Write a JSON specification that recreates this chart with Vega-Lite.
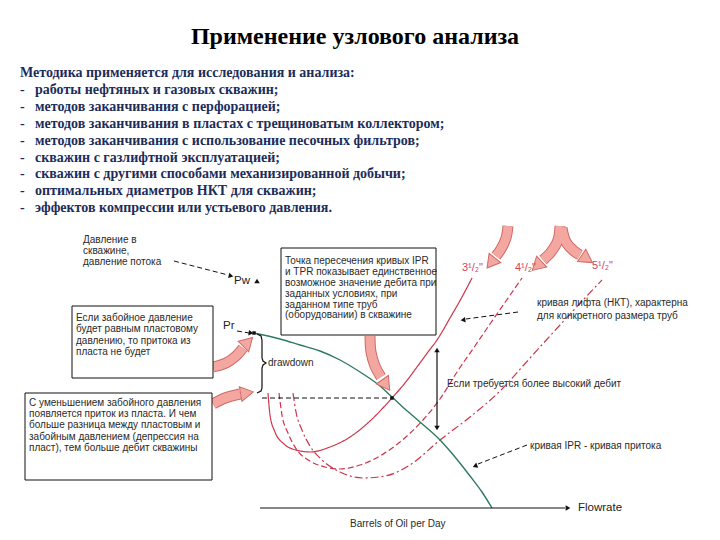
{
  "$schema": "https://vega.github.io/schema/vega-lite/v6.json",
  "width": 720,
  "height": 540,
  "padding": 0,
  "autosize": {"type": "fit", "contains": "padding"},
  "background": "white",
  "config": {"view": {"stroke": null}},
  "datasets": {
    "title": [{"x": 355, "y": 37, "t": "Применение узлового анализа"}],
    "bullets": [
      {"x": 20, "y": 73, "t": "Методика применяется для исследования и анализа:"},
      {"x": 20, "y": 90, "t": "-"}, {"x": 35, "y": 90, "t": "работы нефтяных и газовых скважин;"},
      {"x": 20, "y": 107, "t": "-"}, {"x": 35, "y": 107, "t": "методов заканчивания с перфорацией;"},
      {"x": 20, "y": 124, "t": "-"}, {"x": 35, "y": 124, "t": "методов заканчивания в пластах с трещиноватым коллектором;"},
      {"x": 20, "y": 141, "t": "-"}, {"x": 35, "y": 141, "t": "методов заканчивания с использование песочных фильтров;"},
      {"x": 20, "y": 158, "t": "-"}, {"x": 35, "y": 158, "t": "скважин с газлифтной эксплуатацией;"},
      {"x": 20, "y": 174, "t": "-"}, {"x": 35, "y": 174, "t": "скважин с другими способами механизированной добычи;"},
      {"x": 20, "y": 191, "t": "-"}, {"x": 35, "y": 191, "t": "оптимальных диаметров НКТ для скважин;"},
      {"x": 20, "y": 208, "t": "-"}, {"x": 35, "y": 208, "t": "эффектов компрессии или устьевого давления."}
    ],
    "labels": [
      {"x": 83, "y": 240, "t": "Давление в"},
      {"x": 83, "y": 251, "t": "скважине,"},
      {"x": 83, "y": 262, "t": "давление потока"},
      {"x": 76, "y": 318, "t": "Если забойное давление"},
      {"x": 76, "y": 329, "t": "будет равным пластовому"},
      {"x": 76, "y": 341, "t": "давлению, то притока из"},
      {"x": 76, "y": 352, "t": "пласта не будет"},
      {"x": 285, "y": 261, "t": "Точка пересечения кривых IPR"},
      {"x": 285, "y": 272, "t": "и TPR показывает единственное"},
      {"x": 285, "y": 283, "t": "возможное значение дебита при"},
      {"x": 285, "y": 294, "t": "заданных условиях, при"},
      {"x": 285, "y": 305, "t": "заданном типе труб"},
      {"x": 285, "y": 315, "t": "(оборудовании) в скважине"},
      {"x": 29, "y": 403, "t": "С уменьшением забойного давления"},
      {"x": 29, "y": 414, "t": "появляется приток из пласта. И чем"},
      {"x": 29, "y": 425, "t": "больше разница между пластовым и"},
      {"x": 29, "y": 437, "t": "забойным давлением (депрессия на"},
      {"x": 29, "y": 448, "t": "пласт), тем больше дебит скважины"},
      {"x": 268, "y": 363, "t": "drawdown"},
      {"x": 447, "y": 384, "t": "Если требуется более высокий дебит"},
      {"x": 537, "y": 303, "t": "кривая лифта (НКТ), характерна"},
      {"x": 537, "y": 316, "t": "для конкретного размера труб"},
      {"x": 530, "y": 446, "t": "кривая IPR - кривая притока"},
      {"x": 350, "y": 524, "t": "Barrels of Oil per Day"}
    ],
    "axisLabels": [
      {"x": 234, "y": 281, "t": "Pw"},
      {"x": 223, "y": 326, "t": "Pr"},
      {"x": 578, "y": 508, "t": "Flowrate"}
    ],
    "tubes": [
      {"x": 462, "y": 268, "t": "3¹/₂\""},
      {"x": 515, "y": 268, "t": "4¹/₂\""},
      {"x": 592, "y": 266, "t": "5¹/₂\""}
    ],
    "boxes": [
      {"x": 72, "x2": 213, "y": 306, "y2": 378},
      {"x": 281, "x2": 436, "y": 248, "y2": 335},
      {"x": 25, "x2": 212, "y": 393, "y2": 480}
    ],
    "tpr": [
      {"tube": "3½", "i": 1, "x": 268, "y": 393}, {"tube": "3½", "i": 2, "x": 270, "y": 415}, {"tube": "3½", "i": 3, "x": 275, "y": 432}, {"tube": "3½", "i": 4, "x": 284, "y": 444}, {"tube": "3½", "i": 5, "x": 296, "y": 450}, {"tube": "3½", "i": 6, "x": 310, "y": 452}, {"tube": "3½", "i": 7, "x": 330, "y": 447}, {"tube": "3½", "i": 8, "x": 350, "y": 437}, {"tube": "3½", "i": 9, "x": 370, "y": 421}, {"tube": "3½", "i": 10, "x": 392, "y": 398}, {"tube": "3½", "i": 11, "x": 405, "y": 383}, {"tube": "3½", "i": 12, "x": 417, "y": 367}, {"tube": "3½", "i": 13, "x": 428, "y": 352}, {"tube": "3½", "i": 14, "x": 437, "y": 340}, {"tube": "3½", "i": 15, "x": 450, "y": 318}, {"tube": "3½", "i": 16, "x": 462, "y": 297}, {"tube": "3½", "i": 17, "x": 472, "y": 278},
      {"tube": "4½", "i": 1, "x": 279, "y": 393}, {"tube": "4½", "i": 2, "x": 282, "y": 415}, {"tube": "4½", "i": 3, "x": 288, "y": 433}, {"tube": "4½", "i": 4, "x": 297, "y": 450}, {"tube": "4½", "i": 5, "x": 310, "y": 461}, {"tube": "4½", "i": 6, "x": 325, "y": 467}, {"tube": "4½", "i": 7, "x": 340, "y": 469}, {"tube": "4½", "i": 8, "x": 360, "y": 465}, {"tube": "4½", "i": 9, "x": 380, "y": 456}, {"tube": "4½", "i": 10, "x": 400, "y": 442}, {"tube": "4½", "i": 11, "x": 423, "y": 420}, {"tube": "4½", "i": 12, "x": 440, "y": 399}, {"tube": "4½", "i": 13, "x": 457, "y": 372}, {"tube": "4½", "i": 14, "x": 475, "y": 346}, {"tube": "4½", "i": 15, "x": 490, "y": 324}, {"tube": "4½", "i": 16, "x": 506, "y": 301}, {"tube": "4½", "i": 17, "x": 522, "y": 278},
      {"tube": "5½", "i": 1, "x": 293, "y": 393}, {"tube": "5½", "i": 2, "x": 296, "y": 412}, {"tube": "5½", "i": 3, "x": 302, "y": 430}, {"tube": "5½", "i": 4, "x": 310, "y": 446}, {"tube": "5½", "i": 5, "x": 322, "y": 460}, {"tube": "5½", "i": 6, "x": 340, "y": 472}, {"tube": "5½", "i": 7, "x": 363, "y": 478}, {"tube": "5½", "i": 8, "x": 385, "y": 476}, {"tube": "5½", "i": 9, "x": 410, "y": 465}, {"tube": "5½", "i": 10, "x": 440, "y": 440}, {"tube": "5½", "i": 11, "x": 470, "y": 417}, {"tube": "5½", "i": 12, "x": 500, "y": 391}, {"tube": "5½", "i": 13, "x": 530, "y": 358}, {"tube": "5½", "i": 14, "x": 560, "y": 325}, {"tube": "5½", "i": 15, "x": 585, "y": 298}, {"tube": "5½", "i": 16, "x": 602, "y": 280}
    ],
    "ipr": [
      {"i": 1, "x": 254, "y": 333}, {"i": 2, "x": 280, "y": 339}, {"i": 3, "x": 300, "y": 345}, {"i": 4, "x": 320, "y": 351}, {"i": 5, "x": 340, "y": 360}, {"i": 6, "x": 360, "y": 372}, {"i": 7, "x": 380, "y": 386}, {"i": 8, "x": 392, "y": 397}, {"i": 9, "x": 405, "y": 409}, {"i": 10, "x": 420, "y": 422}, {"i": 11, "x": 440, "y": 440}, {"i": 12, "x": 455, "y": 457}, {"i": 13, "x": 470, "y": 476}, {"i": 14, "x": 482, "y": 492}, {"i": 15, "x": 492, "y": 508}
    ],
    "pink": [
      {"id": "A", "i": 1, "x": 213, "y": 367}, {"id": "A", "i": 2, "x": 226, "y": 363}, {"id": "A", "i": 3, "x": 236, "y": 356}, {"id": "A", "i": 4, "x": 243, "y": 348},
      {"id": "B", "i": 1, "x": 213, "y": 404}, {"id": "B", "i": 2, "x": 225, "y": 398}, {"id": "B", "i": 3, "x": 240, "y": 394},
      {"id": "C", "i": 1, "x": 370, "y": 336}, {"id": "C", "i": 2, "x": 371, "y": 352}, {"id": "C", "i": 3, "x": 375, "y": 366}, {"id": "C", "i": 4, "x": 381, "y": 377},
      {"id": "D1", "i": 1, "x": 508, "y": 226}, {"id": "D1", "i": 2, "x": 506, "y": 238}, {"id": "D1", "i": 3, "x": 501, "y": 249}, {"id": "D1", "i": 4, "x": 496, "y": 256},
      {"id": "D2", "i": 1, "x": 560, "y": 226}, {"id": "D2", "i": 2, "x": 558, "y": 240}, {"id": "D2", "i": 3, "x": 551, "y": 252}, {"id": "D2", "i": 4, "x": 543, "y": 260},
      {"id": "D3", "i": 1, "x": 562, "y": 228}, {"id": "D3", "i": 2, "x": 566, "y": 242}, {"id": "D3", "i": 3, "x": 574, "y": 251}, {"id": "D3", "i": 4, "x": 580, "y": 255}
    ],
    "pinkHeads": [
      {"x": 248, "y": 342, "angle": 45},
      {"x": 247, "y": 393, "angle": 80},
      {"x": 386, "y": 385, "angle": 145},
      {"x": 491, "y": 263, "angle": 218},
      {"x": 537, "y": 266, "angle": 227},
      {"x": 587, "y": 259, "angle": 124}
    ],
    "dashed": [
      {"id": "a", "i": 1, "x": 174, "y": 261}, {"id": "a", "i": 2, "x": 228, "y": 275},
      {"id": "b", "i": 1, "x": 237, "y": 331}, {"id": "b", "i": 2, "x": 249, "y": 333},
      {"id": "c", "i": 1, "x": 518, "y": 312}, {"id": "c", "i": 2, "x": 466, "y": 319},
      {"id": "d", "i": 1, "x": 527, "y": 445}, {"id": "d", "i": 2, "x": 478, "y": 464},
      {"id": "h", "i": 1, "x": 262, "y": 398}, {"id": "h", "i": 2, "x": 392, "y": 398}
    ],
    "solid": [
      {"id": "axis", "i": 1, "x": 260, "y": 508}, {"id": "axis", "i": 2, "x": 565, "y": 508},
      {"id": "vert", "i": 1, "x": 437, "y": 352}, {"id": "vert", "i": 2, "x": 437, "y": 426},
      {"id": "brace", "i": 1, "x": 257, "y": 334}, {"id": "brace", "i": 2, "x": 261, "y": 336}, {"id": "brace", "i": 3, "x": 262, "y": 340}, {"id": "brace", "i": 4, "x": 262, "y": 358}, {"id": "brace", "i": 5, "x": 263, "y": 361}, {"id": "brace", "i": 6, "x": 266, "y": 363}, {"id": "brace", "i": 7, "x": 263, "y": 365}, {"id": "brace", "i": 8, "x": 262, "y": 368}, {"id": "brace", "i": 9, "x": 262, "y": 388}, {"id": "brace", "i": 10, "x": 261, "y": 391}, {"id": "brace", "i": 11, "x": 257, "y": 393}
    ],
    "blackHeads": [
      {"x": 231, "y": 276, "angle": 104},
      {"x": 251, "y": 333, "angle": 98},
      {"x": 463, "y": 320, "angle": 262},
      {"x": 475, "y": 466, "angle": 248},
      {"x": 568, "y": 508, "angle": 90},
      {"x": 437, "y": 350, "angle": 0},
      {"x": 437, "y": 428, "angle": 180},
      {"x": 257, "y": 281, "angle": 0}
    ],
    "dots": [{"x": 254, "y": 333}, {"x": 392, "y": 398}]
  },
  "encoding": {
    "x": {"field": "x", "type": "quantitative", "scale": {"domain": [0, 720], "nice": false, "zero": false}, "axis": null},
    "y": {"field": "y", "type": "quantitative", "scale": {"domain": [0, 540], "nice": false, "zero": false, "reverse": true}, "axis": null}
  },
  "layer": [
    {
      "data": {"name": "tpr"},
      "mark": {"type": "line", "color": "#cc3448", "strokeWidth": 1.2, "interpolate": "monotone"},
      "encoding": {
        "detail": {"field": "tube", "type": "nominal"},
        "order": {"field": "i", "type": "quantitative"},
        "strokeDash": {"field": "tube", "type": "nominal", "scale": {"domain": ["3½", "4½", "5½"], "range": [[1, 0], [6, 3], [8, 3, 2, 3]]}, "legend": null}
      }
    },
    {
      "data": {"name": "ipr"},
      "mark": {"type": "line", "color": "#2f7a5c", "strokeWidth": 1.4, "interpolate": "monotone"},
      "encoding": {"order": {"field": "i", "type": "quantitative"}}
    },
    {
      "data": {"name": "dashed"},
      "mark": {"type": "line", "color": "#111111", "strokeWidth": 1, "strokeDash": [5, 3]},
      "encoding": {"detail": {"field": "id", "type": "nominal"}, "order": {"field": "i", "type": "quantitative"}}
    },
    {
      "data": {"name": "solid"},
      "mark": {"type": "line", "color": "#111111", "strokeWidth": 1.2},
      "encoding": {"detail": {"field": "id", "type": "nominal"}, "order": {"field": "i", "type": "quantitative"}}
    },
    {
      "data": {"name": "pink"},
      "mark": {"type": "line", "color": "#cf6a64", "strokeWidth": 11, "strokeCap": "butt", "interpolate": "catmull-rom"},
      "encoding": {"detail": {"field": "id", "type": "nominal"}, "order": {"field": "i", "type": "quantitative"}}
    },
    {
      "data": {"name": "pink"},
      "mark": {"type": "line", "color": "#f4a7a1", "strokeWidth": 9, "strokeCap": "butt", "interpolate": "catmull-rom"},
      "encoding": {"detail": {"field": "id", "type": "nominal"}, "order": {"field": "i", "type": "quantitative"}}
    },
    {
      "data": {"name": "pinkHeads"},
      "mark": {"type": "point", "shape": "triangle-up", "filled": true, "size": 220, "color": "#f4a7a1", "stroke": "#cf6a64", "strokeWidth": 1, "opacity": 1},
      "encoding": {"angle": {"field": "angle", "type": "quantitative", "scale": null}}
    },
    {
      "data": {"name": "boxes"},
      "mark": {"type": "rect", "fill": "white", "stroke": "#111111", "strokeWidth": 1},
      "encoding": {"x2": {"field": "x2"}, "y2": {"field": "y2"}}
    },
    {
      "data": {"name": "blackHeads"},
      "mark": {"type": "point", "shape": "triangle-up", "filled": true, "size": 30, "color": "#111111", "opacity": 1},
      "encoding": {"angle": {"field": "angle", "type": "quantitative", "scale": null}}
    },
    {
      "data": {"name": "dots"},
      "mark": {"type": "square", "size": 12, "color": "#111111", "opacity": 1}
    },
    {
      "data": {"name": "title"},
      "mark": {"type": "text", "font": "Liberation Serif, DejaVu Serif, serif", "fontWeight": "bold", "fontSize": 24, "color": "#000000", "align": "center", "baseline": "middle"},
      "encoding": {"text": {"field": "t"}}
    },
    {
      "data": {"name": "bullets"},
      "mark": {"type": "text", "font": "Liberation Serif, DejaVu Serif, serif", "fontWeight": "bold", "fontSize": 14, "color": "#1c2d5a", "align": "left", "baseline": "middle"},
      "encoding": {"text": {"field": "t"}}
    },
    {
      "data": {"name": "labels"},
      "mark": {"type": "text", "font": "Liberation Sans", "fontSize": 10, "color": "#2a2a2a", "align": "left", "baseline": "middle"},
      "encoding": {"text": {"field": "t"}}
    },
    {
      "data": {"name": "axisLabels"},
      "mark": {"type": "text", "font": "Liberation Sans", "fontSize": 11.5, "color": "#222222", "align": "left", "baseline": "middle"},
      "encoding": {"text": {"field": "t"}}
    },
    {
      "data": {"name": "tubes"},
      "mark": {"type": "text", "font": "Liberation Sans", "fontSize": 11, "color": "#d2455a", "align": "left", "baseline": "middle"},
      "encoding": {"text": {"field": "t"}}
    }
  ]
}
